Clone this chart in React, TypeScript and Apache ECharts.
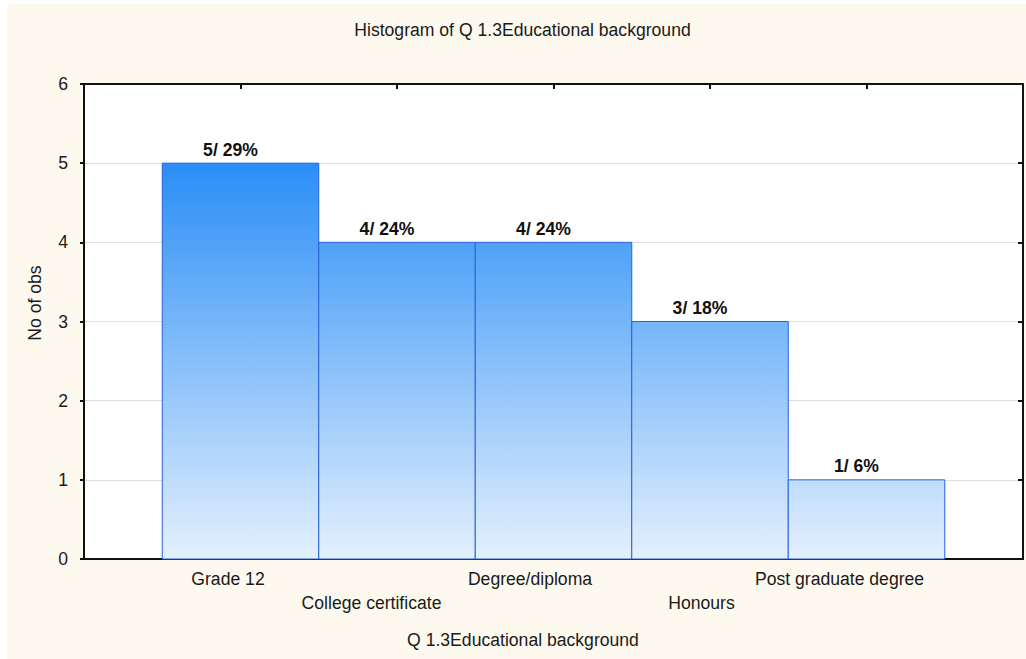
import React, { useEffect, useRef } from "react";
import * as echarts from "echarts";

const categories = ["Grade 12", "College certificate", "Degree/diploma", "Honours", "Post graduate degree"];
const counts = [5, 4, 4, 3, 1];
const percents = ["29%", "24%", "24%", "18%", "6%"];
const yTicks = [0, 1, 2, 3, 4, 5, 6];
// horizontal shift (px, leftwards) of each category label in the reference
const labelShift = [12.5, 25.5, 23.5, 8.5, 27];

const FONT = "'Liberation Sans', Arial, sans-serif";
const FS = 17.6;

export default function App() {
  const ref = useRef<HTMLDivElement>(null);
  useEffect(() => {
    if (!ref.current) return;
    const chart = echarts.init(ref.current, undefined, { renderer: "svg" });
    const data = counts.map((v, i) => [i + 1, v, i]);
    const rich: any = {};
    labelShift.forEach((s, i) => {
      rich["c" + i] = { fontSize: FS, fontFamily: FONT, color: "#1a1a1a", padding: [0, 2 * s, 0, 0], lineHeight: 24 };
    });
    const option: any = {
      animation: false,
      backgroundColor: "#FEF9EE",
      textStyle: { fontFamily: FONT },
      grid: { left: 77, top: 80, width: 941, height: 475, show: true, backgroundColor: "#ffffff", borderWidth: 0 },
      graphic: [
        { type: "text", x: 515.5, y: 26, style: { text: "Histogram of Q 1.3Educational background", fontSize: FS, fontFamily: FONT, fill: "#1a1a1a", align: "center", verticalAlign: "middle" } },
        { type: "text", x: 516, y: 636, style: { text: "Q 1.3Educational background", fontSize: FS, fontFamily: FONT, fill: "#1a1a1a", align: "center", verticalAlign: "middle" } },
        { type: "text", x: 28, y: 299, rotation: Math.PI / 2, style: { text: "No of obs", fontSize: FS, fontFamily: FONT, fill: "#1a1a1a", align: "center", verticalAlign: "middle" } },
      ],
      xAxis: [
        {
          type: "value", min: 0, max: 6, interval: 1, position: "bottom",
          axisLine: { show: true, onZero: false, lineStyle: { color: "#111", width: 2 } },
          axisTick: { show: true, inside: true, length: 5, lineStyle: { color: "#111", width: 2 } },
          splitLine: { show: false },
          axisLabel: {
            margin: 8, fontSize: FS, fontFamily: FONT, color: "#1a1a1a", lineHeight: 24,
            rich,
            formatter: (v: number) => {
              const i = Math.round(v) - 1;
              if (i < 0 || i >= categories.length) return "";
              const t = "{c" + i + "|" + categories[i] + "}";
              return i % 2 === 1 ? "\n" + t : t;
            },
          },
        },
        {
          type: "value", min: 0, max: 6, interval: 1, position: "top",
          axisLine: { show: true, onZero: false, lineStyle: { color: "#111", width: 2 } },
          axisTick: { show: true, inside: true, length: 5, lineStyle: { color: "#111", width: 2 } },
          splitLine: { show: false },
          axisLabel: { show: false },
        },
      ],
      yAxis: [
        {
          type: "value", min: yTicks[0], max: yTicks[yTicks.length - 1], interval: 1, position: "left",
          axisLine: { show: true, onZero: false, lineStyle: { color: "#111", width: 2 } },
          axisTick: { show: true, inside: false, length: 4, lineStyle: { color: "#111", width: 2 } },
          splitLine: { show: true, lineStyle: { color: "#DEDEDE", width: 1 } },
          axisLabel: { margin: 16, fontSize: FS, fontFamily: FONT, color: "#1a1a1a" },
        },
        {
          type: "value", min: yTicks[0], max: yTicks[yTicks.length - 1], interval: 1, position: "right",
          axisLine: { show: true, onZero: false, lineStyle: { color: "#111", width: 2 } },
          axisTick: { show: true, inside: true, length: 5, lineStyle: { color: "#111", width: 2 } },
          splitLine: { show: false },
          axisLabel: { show: false },
        },
      ],
      series: [
        {
          type: "custom",
          xAxisIndex: 0,
          yAxisIndex: 0,
          data,
          clip: false,
          renderItem: (params: any, api: any) => {
            const x = api.value(0);
            const v = api.value(1);
            const i = api.value(2);
            const p0 = api.coord([x - 0.5, 0]);
            const p1 = api.coord([x + 0.5, v]);
            const top6 = api.coord([0, 6])[1];
            const bot = api.coord([0, 0])[1];
            const top5 = api.coord([0, 5])[1];
            const off = (top5 - top6) / (bot - top6);
            const grad = new echarts.graphic.LinearGradient(0, top6, 0, bot, [
              { offset: 0, color: "#0F7EF3" },
              { offset: off, color: "#2A8EF6" },
              { offset: 1, color: "#E4F0FD" },
            ], true);
            return {
              type: "group",
              children: [
                {
                  type: "rect",
                  shape: { x: p0[0], y: p1[1], width: p1[0] - p0[0], height: p0[1] - p1[1] },
                  style: { fill: grad, stroke: "#2962D9", lineWidth: 1 },
                },
                {
                  type: "text",
                  x: (p0[0] + p1[0]) / 2 - 10,
                  y: p1[1] - 13.5,
                  style: {
                    text: counts[i] + "/ " + percents[i],
                    fontSize: FS, fontFamily: FONT, fill: "#111", fontWeight: "bold",
                    align: "center", verticalAlign: "middle",
                  },
                },
              ],
            };
          },
        },
      ],
    };
    chart.setOption(option);
    return () => chart.dispose();
  }, []);
  return (
    <div style={{ position: "fixed", left: 0, top: 0, width: 1026, height: 659, background: "#ffffff" }}>
      <div ref={ref} style={{ position: "absolute", left: 7, top: 4, width: 1019, height: 655 }} />
    </div>
  );
}
